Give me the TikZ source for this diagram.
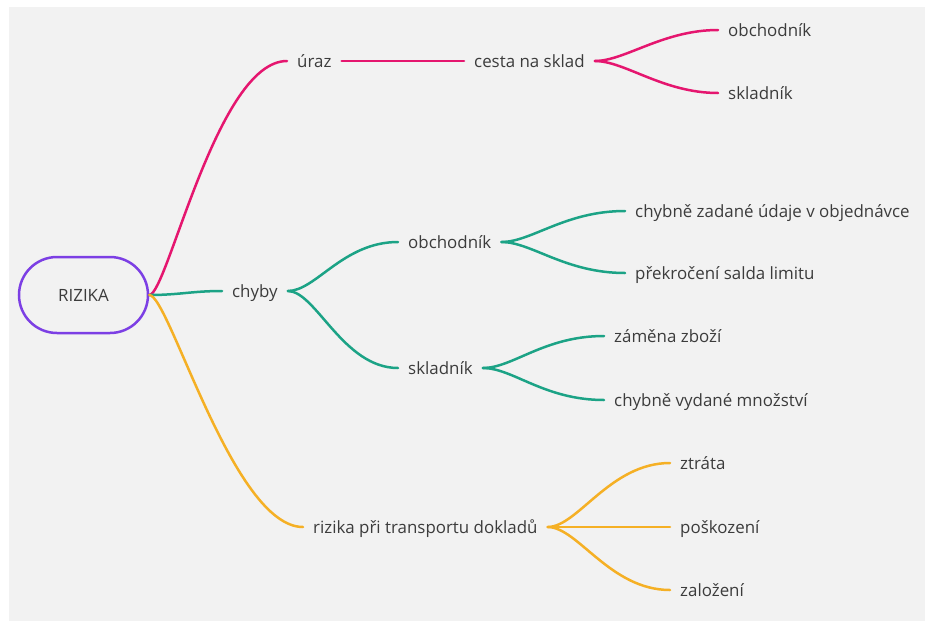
\documentclass[tikz,border=0pt]{standalone}
\usepackage{fontspec}
\setmainfont{Open Sans}
\definecolor{bgpanel}{HTML}{F2F2F2}
\definecolor{txt}{HTML}{3C3C3C}
\definecolor{cpink}{HTML}{E5166F}
\definecolor{cgreen}{HTML}{1CA386}
\definecolor{cyellow}{HTML}{F5B025}
\definecolor{cpurple}{HTML}{7C3FE4}
\tikzset{
  leaf/.style={anchor=west, inner xsep=10pt, inner ysep=0pt, text=txt,
               text height=13pt, text depth=0pt,
               font=\fontsize{16.9}{20}\selectfont},
  link/.style={line width=2.5pt, line cap=round},
  rootbox/.style={draw=cpurple, line width=2.5pt, rounded corners=38pt,
                  minimum width=129pt, minimum height=76pt, text=txt,
                  font=\fontsize{16.9}{20}\selectfont},
}
\begin{document}
\begin{tikzpicture}[x=1pt,y=-1pt]
  % page and panel
  \fill[white] (0,0) rectangle (925,621);
  \fill[bgpanel] (9,7) rectangle (925,621);
  \useasboundingbox (0,0) rectangle (925,621);

  % central topic
  \node[rootbox] (root) at (83.5,295) {RIZIKA};

  % first level
  \node[leaf] (uraz)  at (287,61)  {úraz};
  \node[leaf] (chyby) at (222,291) {chyby};
  \node[leaf] (trans) at (303,527) {rizika při transportu dokladů};

  % úraz branch
  \node[leaf] (cesta) at (464,61) {cesta na sklad};
  \node[leaf] (cobch) at (718,30) {obchodník};
  \node[leaf] (cskl)  at (718,93) {skladník};

  % chyby branch
  \node[leaf] (obch) at (398,242) {obchodník};
  \node[leaf] (skl)  at (398,368) {skladník};
  \node[leaf] (ob1)  at (625,211) {chybně zadané údaje v objednávce};
  \node[leaf] (ob2)  at (625,273) {překročení salda limitu};
  \node[leaf] (sk1)  at (604,336) {záměna zboží};
  \node[leaf] (sk2)  at (604,400) {chybně vydané množství};

  % transport branch
  \node[leaf] (tr1) at (670,463) {ztráta};
  \node[leaf] (tr2) at (670,527) {poškození};
  \node[leaf] (tr3) at (670,590) {založení};

  % connectors: úraz
  \begin{scope}[link, draw=cpink]
    \draw (root.east) .. controls +(18,0) and +(-70,0) .. (uraz.west);
    \draw (uraz.east) -- (cesta.west);
    \draw (cesta.east) .. controls +(30,0) and +(-55,0) .. (cobch.west);
    \draw (cesta.east) .. controls +(30,0) and +(-55,0) .. (cskl.west);
  \end{scope}

  % connectors: chyby
  \begin{scope}[link, draw=cgreen]
    \draw (root.east) .. controls +(30,0) and +(-30,0) .. (chyby.west);
    \draw (chyby.east) .. controls +(28,0) and +(-55,0) .. (obch.west);
    \draw (chyby.east) .. controls +(28,0) and +(-55,0) .. (skl.west);
    \draw (obch.east) .. controls +(30,0) and +(-60,0) .. (ob1.west);
    \draw (obch.east) .. controls +(30,0) and +(-60,0) .. (ob2.west);
    \draw (skl.east) .. controls +(30,0) and +(-60,0) .. (sk1.west);
    \draw (skl.east) .. controls +(30,0) and +(-60,0) .. (sk2.west);
  \end{scope}

  % connectors: transport
  \begin{scope}[link, draw=cyellow]
    \draw (root.east) .. controls +(20,0) and +(-70,0) .. (trans.west);
    \draw (trans.east) .. controls +(30,0) and +(-60,0) .. (tr1.west);
    \draw (trans.east) -- (tr2.west);
    \draw (trans.east) .. controls +(30,0) and +(-60,0) .. (tr3.west);
  \end{scope}
\end{tikzpicture}
\end{document}
